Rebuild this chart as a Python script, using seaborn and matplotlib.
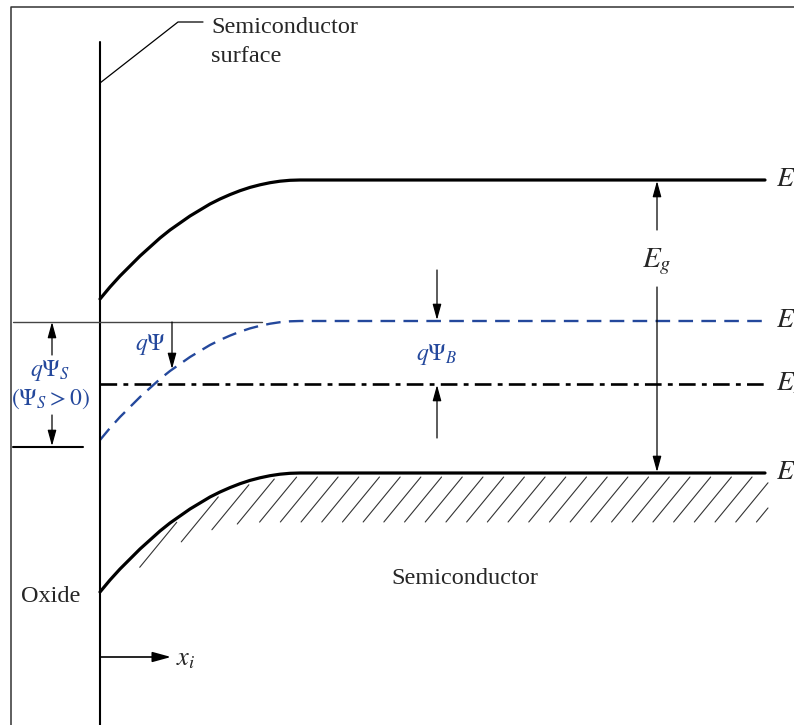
import numpy as np
import pandas as pd
import matplotlib
matplotlib.use("Agg")
import matplotlib.pyplot as plt
import seaborn as sns

# band diagram of a p-type semiconductor at the oxide interface
# (drawing units = pixels of the 794x725 picture, y grows downward)
band_names = ["Ec", "Ei", "EF", "Ev"]
band_levels = [180, 321, 384, 473]          # flat-band level in the bulk
band_labels = [r"$E_C$", r"$E_i$", r"$E_F$", r"$E_V$"]
band_bends = [True, True, False, True]      # EF stays flat

# band bending, from the surface (x=100) to the bulk
bend_x = [100, 110, 120, 130, 140, 150, 160, 170, 180, 190, 200,
          210, 220, 230, 240, 250, 260, 270, 280, 290, 300, 765]
bend_dy = [119, 107, 96, 86, 76, 67, 58, 50, 43, 36, 30,
           24, 19, 14.6, 10.7, 7.4, 4.8, 2.7, 1.2, 0.3, 0, 0]

blue = "#24489c"

sns.set_theme(style="white")
plt.rcParams["font.family"] = ["Liberation Serif", "DejaVu Serif"]
plt.rcParams["mathtext.fontset"] = "stix"
plt.rcParams["lines.scale_dashes"] = False

rows = []
for name, level, bends in zip(band_names, band_levels, band_bends):
    for x, dy in zip(bend_x, bend_dy):
        rows.append({"band": name, "x": x, "y": level + (dy if bends else 0)})
df = pd.DataFrame(rows)

fig = plt.figure(figsize=(7.94, 7.25), dpi=100)
ax = fig.add_axes([0, 0, 1, 1])

styles = {
    "Ec": dict(color="black", lw=2.3, linestyle="-"),
    "Ei": dict(color=blue, lw=1.7, linestyle=(0, (10.5, 6))),
    "EF": dict(color="black", lw=1.9, linestyle=(0, (12, 4.5, 3.5, 4.5))),
    "Ev": dict(color="black", lw=2.3, linestyle="-"),
}
for name in band_names:
    sns.lineplot(data=df[df["band"] == name], x="x", y="y", ax=ax,
                 estimator=None, sort=False, **styles[name])

# hatching under the valence band: parallel strokes clipped at the right end
ev = df[df["band"] == "Ev"]
xs = np.linspace(100, 800, 3000)
ev_y = np.interp(xs, ev["x"], ev["y"]) + 4
f = xs + 0.82 * ev_y
for c in np.arange(605, 1190, 20.7):
    xt = np.interp(c, f, xs)
    yt = np.interp(xt, xs, ev_y)
    xb, yb = xt - 37, yt + 45
    if xt > 768:
        yt = yt + (xt - 768) * 45 / 37
        xt = 768
    ax.plot([xt, xb], [yt, yb], color="#333333", lw=0.8)

# frame, surface and guide lines
ax.plot([11, 11, 794], [725, 7, 7], color="#333333", lw=1.1)
ax.plot([100, 100], [42, 725], color="black", lw=1.5)
ax.plot([100, 178, 203], [83, 22, 22], color="black", lw=0.9)
ax.plot([13, 262], [322, 322], color="#444444", lw=1.0)
ax.plot([13, 83], [447, 447], color="black", lw=1.5)

def arrow(tail, tip, lw=0.9, scale=12):
    ax.annotate("", xy=tip, xytext=tail,
                arrowprops=dict(arrowstyle="-|>,head_length=0.8,head_width=0.22",
                                color="black", lw=lw, shrinkA=0, shrinkB=0,
                                mutation_scale=scale))

arrow((657, 230), (657, 181))
arrow((657, 287), (657, 472))
arrow((52, 355), (52, 322))
arrow((52, 415), (52, 446))
arrow((172, 322), (172, 369))
arrow((437, 270), (437, 320))
arrow((437, 438), (437, 385))
arrow((100, 657), (171, 657), lw=1.2, scale=14)

# texts (the band labels run off the right edge, as in the original figure)
for label, level in zip(band_labels, band_levels):
    ax.text(776, level, label, fontsize=20, ha="left", va="center")
ax.text(657, 262, r"$E_g$", fontsize=21, ha="center", va="center",
        bbox=dict(facecolor="white", edgecolor="none", pad=0))
ax.text(211, 33, "Semiconductor", fontsize=17.5, va="baseline")
ax.text(211, 62, "surface", fontsize=17.5, va="baseline")
ax.text(465, 578, "Semiconductor", fontsize=17.5, ha="center", va="center")
ax.text(51, 596, "Oxide", fontsize=17.5, ha="center", va="center")
ax.text(176, 660, r"$x_i$", fontsize=19, ha="left", va="center")
ax.text(166, 344, r"$q\Psi$", fontsize=17, color=blue, ha="right", va="center")
ax.text(50, 370, r"$q\Psi_S$", fontsize=17, color=blue, ha="center", va="center")
ax.text(50, 399, r"$(\Psi_S > 0)$", fontsize=17, color=blue, ha="center", va="center")
ax.text(437, 354, r"$q\Psi_B$", fontsize=17, color=blue, ha="center", va="center")

ax.set_xlim(0, 794)
ax.set_ylim(725, 0)
ax.axis("off")
fig.savefig("out.png", dpi=100)
